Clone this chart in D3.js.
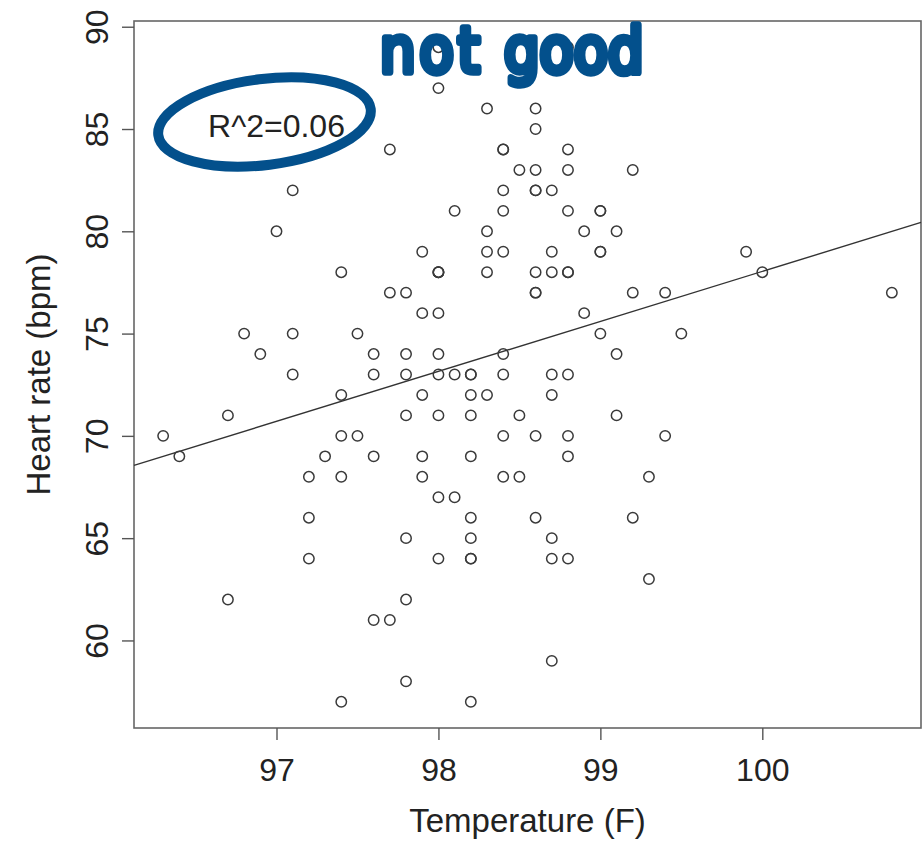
<!DOCTYPE html>
<html>
<head>
<meta charset="utf-8">
<script src="https://cdn.jsdelivr.net/npm/d3@7"></script>
<style>
body { margin: 0; background: #fff; }
svg text { font-family: "Liberation Sans", Arial, Helvetica, sans-serif; fill: #222; }
</style>
</head>
<body>
<svg id="chart"></svg>
<script>
// body temperature vs heart rate, one entry per subject
var temperature = [
  96.3, 96.4, 96.7, 96.7, 96.8, 96.9, 97.0, 97.1, 97.1, 97.1,
  97.2, 97.2, 97.2, 97.3, 97.4, 97.4, 97.4, 97.4, 97.4, 97.5,
  97.5, 97.6, 97.6, 97.6, 97.6, 97.7, 97.7, 97.7, 97.8, 97.8,
  97.8, 97.8, 97.8, 97.8, 97.8, 97.9, 97.9, 97.9, 97.9, 97.9,
  98.0, 98.0, 98.0, 98.0, 98.0, 98.0, 98.0, 98.0, 98.0, 98.0,
  98.0, 98.1, 98.1, 98.1, 98.2, 98.2, 98.2, 98.2, 98.2, 98.2,
  98.2, 98.2, 98.2, 98.2, 98.3, 98.3, 98.3, 98.3, 98.3, 98.4,
  98.4, 98.4, 98.4, 98.4, 98.4, 98.4, 98.4, 98.4, 98.5, 98.5,
  98.5, 98.6, 98.6, 98.6, 98.6, 98.6, 98.6, 98.6, 98.6, 98.6,
  98.6, 98.7, 98.7, 98.7, 98.7, 98.7, 98.7, 98.7, 98.7, 98.8,
  98.8, 98.8, 98.8, 98.8, 98.8, 98.8, 98.8, 98.8, 98.8, 98.9,
  98.9, 99.0, 99.0, 99.0, 99.0, 99.0, 99.1, 99.1, 99.1, 99.2,
  99.2, 99.2, 99.3, 99.3, 99.4, 99.4, 99.5, 99.9, 100.0, 100.8
];
var heart_rate = [
  70, 69, 71, 62, 75, 74, 80, 73, 75, 82,
  64, 66, 68, 69, 70, 68, 72, 78, 57, 70,
  75, 74, 69, 73, 61, 77, 84, 61, 58, 73,
  65, 74, 77, 62, 71, 76, 72, 68, 69, 79,
  78, 71, 74, 67, 64, 78, 76, 87, 78, 73,
  89, 73, 67, 81, 66, 64, 71, 72, 73, 64,
  65, 73, 69, 57, 86, 72, 79, 78, 80, 68,
  70, 82, 84, 79, 81, 73, 74, 84, 68, 71,
  83, 77, 78, 83, 66, 70, 82, 82, 85, 86,
  77, 73, 78, 72, 79, 59, 64, 65, 82, 78,
  81, 78, 64, 70, 83, 84, 73, 69, 89, 80,
  76, 75, 79, 81, 79, 81, 71, 80, 74, 83,
  77, 66, 63, 68, 70, 77, 75, 79, 78, 77
];
var x_ticks = [97, 98, 99, 100];
var y_ticks = [60, 65, 70, 75, 80, 85, 90];
var x_title = 'Temperature (F)';
var y_title = 'Heart rate (bpm)';
var fit_label = 'R^2=0.06';
var fit_label_at = [97, 85];
var note_words = ['not', 'good'];

var width = 922, height = 841;
var plot = {left: 134, right: 921, top: 21, bottom: 728};
var ink = '#03508c';

// R style axis range: data extent plus 4% each side
function padded(values) {
  let ext = d3.extent(values);
  let d = (ext[1] - ext[0]) * 0.04;
  return [ext[0] - d, ext[1] + d];
}

// ordinary least squares
function fit_line(xs, ys) {
  let mx = d3.mean(xs), my = d3.mean(ys);
  let sxy = 0, sxx = 0;
  for (let i = 0; i < xs.length; i++) {
    sxy += (xs[i] - mx) * (ys[i] - my);
    sxx += (xs[i] - mx) * (xs[i] - mx);
  }
  let slope = sxy / sxx;
  return {slope: slope, intercept: my - slope * mx};
}

function draw() {
  var svg = d3.select('#chart').attr('width', width).attr('height', height);
  var x = d3.scaleLinear().domain(padded(temperature)).range([plot.left, plot.right]);
  var y = d3.scaleLinear().domain(padded(heart_rate)).range([plot.bottom, plot.top]);

  var pts = temperature.map((t, i) => ({t: t, hr: heart_rate[i]}));

  svg.append('rect')
    .attr('x', plot.left).attr('y', plot.top)
    .attr('width', plot.right - plot.left).attr('height', plot.bottom - plot.top)
    .style('fill', 'none').style('stroke', '#666').style('stroke-width', 1.6);

  var xa = svg.append('g')
    .attr('transform', 'translate(0,' + plot.bottom + ')')
    .call(d3.axisBottom(x).tickValues(x_ticks).tickSize(12).tickPadding(18).tickFormat(d3.format('d')));
  xa.select('.domain').remove();
  xa.selectAll('line').style('stroke', '#555').style('stroke-width', 1.4);
  xa.selectAll('text').style('font-size', '32px').style('fill', '#222');

  var ya = svg.append('g')
    .attr('transform', 'translate(' + plot.left + ',0)')
    .call(d3.axisLeft(y).tickValues(y_ticks).tickSize(12).tickFormat(d3.format('d')));
  ya.select('.domain').remove();
  ya.selectAll('line').style('stroke', '#555').style('stroke-width', 1.4);
  ya.selectAll('text')
    .attr('transform', 'rotate(-90)')
    .attr('x', 0).attr('y', -26).attr('dy', 0)
    .attr('text-anchor', 'middle')
    .style('font-size', '32px').style('fill', '#222');

  svg.append('text')
    .attr('x', (plot.left + plot.right) / 2).attr('y', 832)
    .attr('text-anchor', 'middle')
    .style('font-size', '33px')
    .text(x_title);

  svg.append('text')
    .attr('transform', 'translate(50,' + (plot.top + plot.bottom) / 2 + ') rotate(-90)')
    .attr('text-anchor', 'middle')
    .style('font-size', '33px')
    .text(y_title);

  // regression line across the whole plot width
  var fit = fit_line(temperature, heart_rate);
  var xd = x.domain();
  svg.append('line')
    .attr('x1', x(xd[0])).attr('y1', y(fit.intercept + fit.slope * xd[0]))
    .attr('x2', x(xd[1])).attr('y2', y(fit.intercept + fit.slope * xd[1]))
    .style('stroke', '#333').style('stroke-width', 1.4);

  svg.selectAll('.pt')
    .data(pts)
    .enter()
    .append('circle')
      .attr('class', 'pt')
      .attr('cx', d => x(d.t))
      .attr('cy', d => y(d.hr))
      .attr('r', 5.2)
      .style('fill', 'none')
      .style('stroke', '#3a3a3a')
      .style('stroke-width', 1.5);

  var lx = x(fit_label_at[0]), ly = y(fit_label_at[1]);
  svg.append('text')
    .attr('x', lx).attr('y', ly).attr('dy', '0.25em')
    .attr('text-anchor', 'middle')
    .style('font-size', '32px')
    .text(fit_label);

  // hand drawn marks on top
  svg.append('ellipse')
    .attr('cx', lx - 12).attr('cy', ly - 7)
    .attr('rx', 107).attr('ry', 43)
    .attr('transform', 'rotate(-7,' + (lx - 12) + ',' + (ly - 7) + ')')
    .style('fill', 'none').style('stroke', ink).style('stroke-width', 10);

  var note = svg.append('text')
    .attr('transform', 'translate(0,72) scale(1,1.12)')
    .style('font-family', '"DejaVu Sans", sans-serif')
    .style('font-size', '56px')
    .style('fill', ink)
    .style('stroke', ink).style('stroke-width', 6.5)
    .style('stroke-linejoin', 'round').style('stroke-linecap', 'round');
  note.append('tspan').attr('x', 380).attr('y', 0)
    .style('letter-spacing', '4px').text(note_words[0]);
  note.append('tspan').attr('x', 504).attr('y', 0)
    .style('letter-spacing', '0px').text(note_words[1]);
}

draw();
</script>
</body>
</html>
